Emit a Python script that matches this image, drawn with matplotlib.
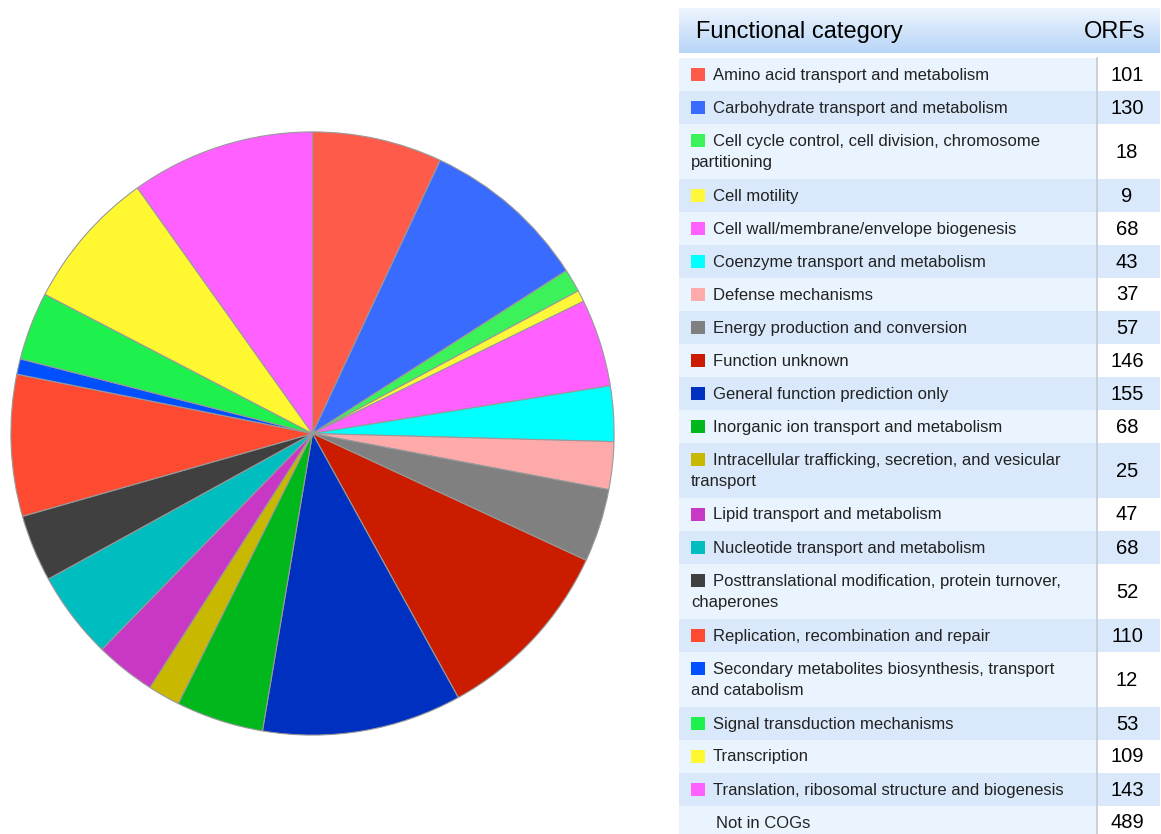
import numpy as np
import matplotlib
matplotlib.use("Agg")
import matplotlib.pyplot as plt
from matplotlib.patches import Rectangle

plt.rcParams['font.family'] = ['Liberation Sans', 'DejaVu Sans']

# COG functional categories (label line breaks follow the table wrapping)
categories = [
    "Amino acid transport and metabolism",
    "Carbohydrate transport and metabolism",
    "Cell cycle control, cell division, chromosome\npartitioning",
    "Cell motility",
    "Cell wall/membrane/envelope biogenesis",
    "Coenzyme transport and metabolism",
    "Defense mechanisms",
    "Energy production and conversion",
    "Function unknown",
    "General function prediction only",
    "Inorganic ion transport and metabolism",
    "Intracellular trafficking, secretion, and vesicular\ntransport",
    "Lipid transport and metabolism",
    "Nucleotide transport and metabolism",
    "Posttranslational modification, protein turnover,\nchaperones",
    "Replication, recombination and repair",
    "Secondary metabolites biosynthesis, transport\nand catabolism",
    "Signal transduction mechanisms",
    "Transcription",
    "Translation, ribosomal structure and biogenesis",
]
orfs = [101, 130, 18, 9, 68, 43, 37, 57, 146, 155,
        68, 25, 47, 68, 52, 110, 12, 53, 109, 143]
colors = ["#ff5b4b", "#3a6bff", "#3cf25a", "#fff83a", "#ff60ff",
          "#00ffff", "#ffaaaa", "#808080", "#cc1c00", "#0030bf",
          "#00b81c", "#c8b800", "#c838c4", "#00bec0", "#404040",
          "#ff4a32", "#0050ff", "#1ef04e", "#fff830", "#ff60ff"]
not_in_cogs = 489

W, H = 1161, 834
fig = plt.figure(figsize=(W / 100, H / 100), dpi=100)

# pie, clockwise from 12 o'clock
ax = fig.add_axes([10 / W, (H - 736) / H, 605 / W, 605 / H])
ax.pie(orfs, colors=colors, startangle=90, counterclock=False,
       wedgeprops=dict(edgecolor="#999999", linewidth=0.8))
ax.set_xlim(-1.003, 1.003)
ax.set_ylim(-1.003, 1.003)

# table drawn in pixel coordinates
tb = fig.add_axes([0, 0, 1, 1], zorder=-1)
tb.set_xlim(0, W)
tb.set_ylim(H, 0)
tb.axis("off")

x0, x1, xdiv = 679, 1160, 1097
grad = np.linspace(0, 1, 64)[:, None]
top = np.array([0.93, 0.96, 0.995])
bot = np.array([0.72, 0.835, 0.97])
img = top[None, None, :] * (1 - grad[..., None]) + bot[None, None, :] * grad[..., None]
tb.imshow(img, extent=[x0, x1, 53, 8], aspect="auto", interpolation="bilinear")
tb.text(696, 32, "Functional category", fontsize=17, va="center", ha="left", color="black")
tb.text(1145, 32, "ORFs", fontsize=17, va="center", ha="right", color="black")

light, dark = "#eaf4fe", "#d9e9fb"
fs = 12
y = 58
rows = list(zip(categories, orfs, colors)) + [("Not in COGs", not_in_cogs, None)]
for i, (label, n, c) in enumerate(rows):
    lines = label.split("\n")
    h = 33 if len(lines) == 1 else 55
    bg = light if i % 2 == 0 else dark
    tb.add_patch(Rectangle((x0, y), xdiv - x0, h, facecolor=bg, edgecolor="none"))
    tb.add_patch(Rectangle((xdiv, y), x1 - xdiv, h,
                           facecolor="white" if i % 2 == 0 else dark, edgecolor="none"))
    if c is not None:
        ly = y + 16.5 if len(lines) == 1 else y + 17
        tb.add_patch(Rectangle((691, ly - 7), 13.5, 13, facecolor=c, edgecolor="none"))
        tb.text(713, ly + 0.5, lines[0], fontsize=fs, va="center", ha="left", color="#222222")
        if len(lines) > 1:
            tb.text(691, ly + 21.5, lines[1], fontsize=fs, va="center", ha="left", color="#222222")
    else:
        tb.text(716, y + 17, label, fontsize=fs, va="center", ha="left", color="#222222")
    tb.text(1127, y + h / 2 + 0.5, str(n), fontsize=14.5, va="center", ha="center", color="black")
    y += h

tb.plot([xdiv, xdiv], [58, H], color="#c4c9cf", linewidth=1.2)

fig.savefig("out.png", dpi=100)
